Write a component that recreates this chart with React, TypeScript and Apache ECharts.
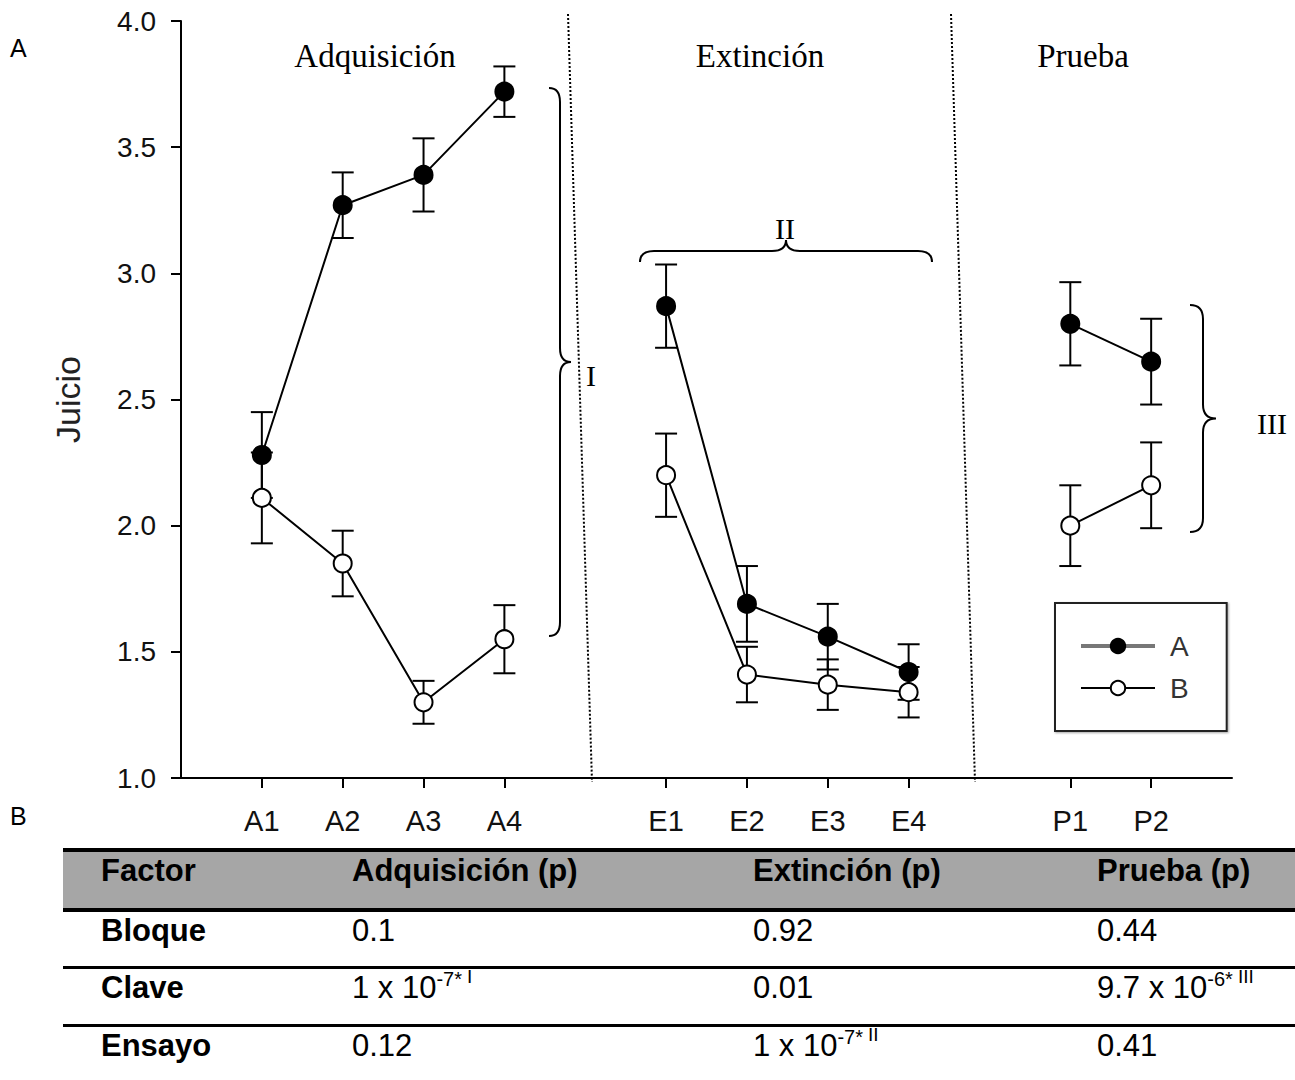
import React, { useEffect, useRef } from "react";
import * as echarts from "echarts";

// Trials and their slots on the x axis (empty slots separate the phases)
const trials = ["A1", "A2", "A3", "A4", "E1", "E2", "E3", "E4", "P1", "P2"];
const trialPos = [1, 2, 3, 4, 6, 7, 8, 9, 11, 12];
const phases = [
  { name: "Adquisición", from: 0, to: 4 },
  { name: "Extinción", from: 4, to: 8 },
  { name: "Prueba", from: 8, to: 10 },
];

// Mean judgement and standard error per trial
const meanA = [2.28, 3.27, 3.39, 3.72, 2.87, 1.69, 1.56, 1.42, 2.8, 2.65];
const semA = [0.17, 0.13, 0.145, 0.1, 0.165, 0.15, 0.13, 0.11, 0.165, 0.17];
const meanB = [2.11, 1.85, 1.3, 1.55, 2.2, 1.41, 1.37, 1.34, 2.0, 2.16];
const semB = [0.18, 0.13, 0.085, 0.135, 0.165, 0.11, 0.1, 0.1, 0.16, 0.17];

const yMin = 1;
const yMax = 4;
const yStep = 0.5;

// ANOVA table
const tableHeaders = ["Factor", "Adquisición (p)", "Extinción (p)", "Prueba (p)"];
const factors = ["Bloque", "Clave", "Ensayo"];
// each cell: [base, superscript, significance mark]
const pAdquisicion = [["0.1"], ["1 x 10", "-7", "*", "I"], ["0.12"]];
const pExtincion = [["0.92"], ["0.01"], ["1 x 10", "-7", "*", "II"]];
const pPrueba = [["0.44"], ["9.7 x 10", "-6", "*", "III"], ["0.41"]];

const SANS = "Arial, 'Liberation Sans', sans-serif";
const SERIF = "'Times New Roman', 'Liberation Serif', serif";

function vBrace(x: number, y0: number, y1: number, d: number) {
  const h = d / 2;
  const ym = (y0 + y1) / 2;
  const r = 14;
  return (
    `M${x} ${y0} Q${x + h} ${y0} ${x + h} ${y0 + r} L${x + h} ${ym - r} ` +
    `Q${x + h} ${ym} ${x + d} ${ym} Q${x + h} ${ym} ${x + h} ${ym + r} ` +
    `L${x + h} ${y1 - r} Q${x + h} ${y1} ${x} ${y1}`
  );
}

function hBrace(x0: number, x1: number, y: number, d: number) {
  const h = d / 2;
  const xm = (x0 + x1) / 2;
  const r = 14;
  return (
    `M${x0} ${y} Q${x0} ${y - h} ${x0 + r} ${y - h} L${xm - r} ${y - h} ` +
    `Q${xm} ${y - h} ${xm} ${y - d} Q${xm} ${y - h} ${xm + r} ${y - h} ` +
    `L${x1 - r} ${y - h} Q${x1} ${y - h} ${x1} ${y}`
  );
}

let shapesRegistered = false;
function registerBraces() {
  if (shapesRegistered) return;
  echarts.graphic.registerShape("braceI", echarts.graphic.extendPath(vBrace(549, 88, 636, 22), {}));
  echarts.graphic.registerShape("braceII", echarts.graphic.extendPath(hBrace(640, 932, 262, 22), {}));
  echarts.graphic.registerShape("braceIII", echarts.graphic.extendPath(vBrace(1190, 305, 532, 26), {}));
  shapesRegistered = true;
}

function errorSeries(name: string, mean: number[], sem: number[]) {
  return {
    type: "custom",
    name,
    z: 1,
    silent: true,
    encode: { x: 0, y: [1, 2] },
    data: trialPos.map((p, i) => [p, mean[i] - sem[i], mean[i] + sem[i]]),
    renderItem: (_params: any, api: any) => {
      const x = api.value(0);
      const lo = api.coord([x, api.value(1)]);
      const hi = api.coord([x, api.value(2)]);
      const w = 11;
      const st = { stroke: "#000", lineWidth: 2 };
      return {
        type: "group",
        children: [
          { type: "line", shape: { x1: lo[0], y1: lo[1], x2: hi[0], y2: hi[1] }, style: st },
          { type: "line", shape: { x1: lo[0] - w, y1: lo[1], x2: lo[0] + w, y2: lo[1] }, style: st },
          { type: "line", shape: { x1: hi[0] - w, y1: hi[1], x2: hi[0] + w, y2: hi[1] }, style: st },
        ],
      };
    },
  };
}

function lineSeries(name: string, mean: number[], filled: boolean, z: number) {
  return phases.map((ph) => ({
    type: "line",
    name,
    z,
    symbol: "circle",
    symbolSize: 18,
    showSymbol: true,
    lineStyle: { color: "#000", width: 2 },
    itemStyle: { color: filled ? "#000" : "#fff", borderColor: "#000", borderWidth: 2 },
    data: trialPos.slice(ph.from, ph.to).map((p, i) => [p, mean[ph.from + i]]),
  }));
}

function Cell({ cell, bold }: { cell: string[]; bold?: boolean }) {
  const [base, exp, star, mark] = cell;
  return (
    <span style={{ fontWeight: bold ? "bold" : "normal" }}>
      {base}
      {exp !== undefined && (
        <span style={{ fontSize: 20, position: "relative", top: -12 }}>
          {exp}
          {star}
        </span>
      )}
      {mark !== undefined && (
        <span style={{ fontSize: 19, position: "relative", top: -15, marginLeft: 5 }}>{mark}</span>
      )}
    </span>
  );
}

function AnovaTable() {
  const colX = [101, 352, 753, 1097];
  const rowY = [871, 931, 988, 1046];
  const cols = [pAdquisicion, pExtincion, pPrueba];
  const bar = (top: number, h: number, bg: string) => (
    <div style={{ position: "absolute", left: 63, width: 1232, top, height: h, background: bg }} />
  );
  const txt = (x: number, y: number, content: React.ReactNode, key: string) => (
    <div
      key={key}
      style={{
        position: "absolute",
        left: x,
        top: y - 20,
        height: 40,
        lineHeight: "40px",
        fontFamily: SANS,
        fontSize: 31,
        color: "#000",
        whiteSpace: "nowrap",
      }}
    >
      {content}
    </div>
  );
  return (
    <div style={{ position: "absolute", left: 0, top: 0, width: 1295, height: 1080, pointerEvents: "none" }}>
      {bar(852, 56, "#a6a6a6")}
      {bar(848, 4, "#000")}
      {bar(908, 4, "#000")}
      {bar(966, 3, "#000")}
      {bar(1024, 3, "#000")}
      {tableHeaders.map((h, i) => txt(colX[i], rowY[0], <b>{h}</b>, "h" + i))}
      {factors.map((f, r) => txt(colX[0], rowY[r + 1], <b>{f}</b>, "f" + r))}
      {cols.map((col, c) =>
        col.map((cell, r) => txt(colX[c + 1], rowY[r + 1], <Cell cell={cell} />, `c${c}${r}`))
      )}
    </div>
  );
}

export default function App() {
  const ref = useRef<HTMLDivElement>(null);

  useEffect(() => {
    if (!ref.current) return;
    registerBraces();
    const chart = echarts.init(ref.current, null, { renderer: "svg" });

    const serifText = (text: string, x: number, y: number, size = 32) => ({
      type: "text",
      x,
      y,
      style: {
        text,
        fill: "#000",
        font: `${size}px ${SERIF}`,
        align: "center",
        verticalAlign: "middle",
      },
    });

    const option: any = {
      animation: false,
      backgroundColor: "#fff",
      grid: { left: 181, top: 21, right: 63, bottom: 302, containLabel: false },
      xAxis: {
        type: "value",
        min: 0,
        max: 13,
        splitLine: { show: false },
        axisLine: { lineStyle: { color: "#000", width: 2 } },
        axisTick: { customValues: trialPos, length: 10, lineStyle: { color: "#000", width: 2 } },
        axisLabel: {
          customValues: trialPos,
          formatter: (v: number) => trials[trialPos.indexOf(v)] ?? "",
          color: "#111",
          fontFamily: SANS,
          fontSize: 29,
          margin: 28,
        },
      },
      yAxis: {
        type: "value",
        min: yMin,
        max: yMax,
        interval: yStep,
        name: "Juicio",
        nameLocation: "middle",
        nameGap: 96,
        nameTextStyle: { color: "#222", fontFamily: SANS, fontSize: 34 },
        splitLine: { show: false },
        axisLine: { lineStyle: { color: "#000", width: 2 } },
        axisTick: { length: 10, lineStyle: { color: "#000", width: 2 } },
        axisLabel: {
          formatter: (v: number) => v.toFixed(1),
          color: "#111",
          fontFamily: SANS,
          fontSize: 28,
          margin: 25,
        },
      },
      legend: {
        data: [
          { name: "A", lineStyle: { color: "#777", width: 4 } },
          { name: "B", lineStyle: { color: "#000", width: 2 } },
        ],
        orient: "vertical",
        left: 1055,
        top: 603,
        itemWidth: 74,
        itemHeight: 18,
        itemGap: 14,
        padding: [29, 38, 29, 24],
        borderColor: "#222",
        borderWidth: 2,
        shadowColor: "rgba(0,0,0,0.35)",
        shadowBlur: 2,
        shadowOffsetX: 1,
        shadowOffsetY: 1,
        backgroundColor: "#fff",
        textStyle: { color: "#333", fontFamily: SANS, fontSize: 28, padding: [0, 0, 0, 10] },
        selectedMode: false,
      },
      graphic: [
        // phase separators
        {
          type: "line",
          shape: { x1: 568, y1: 14, x2: 592, y2: 782 },
          style: { stroke: "#000", lineWidth: 2, lineDash: [2, 2] },
        },
        {
          type: "line",
          shape: { x1: 951, y1: 14, x2: 975, y2: 782 },
          style: { stroke: "#000", lineWidth: 2, lineDash: [2, 2] },
        },
        serifText(phases[0].name, 375, 56, 33),
        serifText(phases[1].name, 760, 56, 33),
        serifText(phases[2].name, 1083, 56, 33),
        { type: "braceI", x: 0, y: 0, style: { stroke: "#000", fill: null, lineWidth: 2 } },
        { type: "braceII", x: 0, y: 0, style: { stroke: "#000", fill: null, lineWidth: 2 } },
        { type: "braceIII", x: 0, y: 0, style: { stroke: "#000", fill: null, lineWidth: 2 } },
        serifText("I", 591, 375, 30),
        serifText("II", 785, 228, 30),
        serifText("III", 1272, 423, 30),
        {
          type: "text",
          x: 10,
          y: 48,
          style: { text: "A", fill: "#000", font: `25px ${SANS}`, verticalAlign: "middle" },
        },
        {
          type: "text",
          x: 10,
          y: 816,
          style: { text: "B", fill: "#000", font: `25px ${SANS}`, verticalAlign: "middle" },
        },
      ],
      series: [
        errorSeries("errA", meanA, semA),
        errorSeries("errB", meanB, semB),
        ...lineSeries("A", meanA, true, 3),
        ...lineSeries("B", meanB, false, 4),
      ],
    };

    chart.setOption(option);
    return () => chart.dispose();
  }, []);

  return (
    <div style={{ position: "fixed", left: 0, top: 0, width: 1295, height: 1080, background: "#fff" }}>
      <div ref={ref} style={{ position: "absolute", left: 0, top: 0, width: 1295, height: 1080 }} />
      <AnovaTable />
    </div>
  );
}
